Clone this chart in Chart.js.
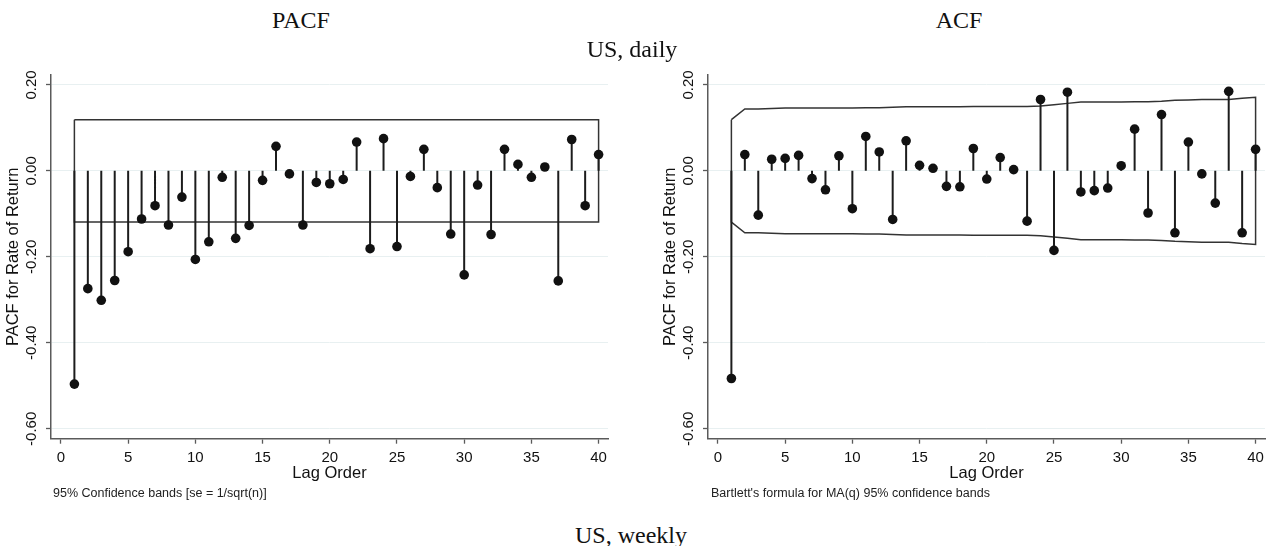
<!DOCTYPE html>
<html>
<head>
<meta charset="utf-8">
<title>PACF / ACF - US, daily</title>
<script src="https://cdn.jsdelivr.net/npm/chart.js@4.4.1/dist/chart.umd.min.js"></script>
<style>
    html, body { margin: 0; padding: 0; background: #fff; overflow: hidden; }
    #wrap { position: relative; width: 1271px; height: 546px; background: #fff; }
    canvas { position: absolute; top: 60px; }
    .title { position: absolute; width: 240px; text-align: center; font-family: "Liberation Serif", "Times New Roman", serif; font-size: 24px; line-height: 24px; color: #111; white-space: nowrap; }
    .note { position: absolute; top: 486px; font-family: "Liberation Sans", Arial, sans-serif; font-size: 12.5px; line-height: 14px; color: #222; white-space: nowrap; }
</style>
</head>
<body>
<div id="wrap">
    <canvas id="pacfChart" width="630" height="450" style="left:0"></canvas>
    <canvas id="acfChart" width="614" height="450" style="left:657px"></canvas>

    <div class="title" style="left:181px; top:8px">PACF</div>
    <div class="title" style="left:839px; top:8px">ACF</div>
    <div class="title" style="left:512px; top:37px">US, daily</div>
    <div class="title" style="left:511px; top:523px">US, weekly</div>

    <div class="note" style="left:53px">95% Confidence bands [se = 1/sqrt(n)]</div>
    <div class="note" style="left:711px">Bartlett's formula for MA(q) 95% confidence bands</div>
</div>

<script>
// lag order 1..40
const lags = [1, 2, 3, 4, 5, 6, 7, 8, 9, 10, 11, 12, 13, 14, 15, 16, 17, 18, 19, 20,
    21, 22, 23, 24, 25, 26, 27, 28, 29, 30, 31, 32, 33, 34, 35, 36, 37, 38, 39, 40];

// values
const pacfValues = [-0.496, -0.274, -0.301, -0.255, -0.188, -0.112, -0.081, -0.126, -0.061, -0.206,
    -0.165, -0.015, -0.157, -0.127, -0.022, 0.057, -0.007, -0.126, -0.027, -0.030,
    -0.020, 0.067, -0.181, 0.075, -0.176, -0.013, 0.050, -0.039, -0.147, -0.242,
    -0.033, -0.148, 0.050, 0.015, -0.015, 0.009, -0.256, 0.073, -0.081, 0.038];

const acfValues = [-0.483, 0.038, -0.103, 0.027, 0.029, 0.036, -0.018, -0.044, 0.035, -0.088,
    0.080, 0.044, -0.113, 0.070, 0.013, 0.006, -0.036, -0.037, 0.052, -0.019,
    0.031, 0.003, -0.117, 0.166, -0.185, 0.183, -0.049, -0.046, -0.040, 0.012,
    0.097, -0.098, 0.131, -0.144, 0.067, -0.007, -0.075, 0.185, -0.144, 0.050];

// 95% bands (upper edge, the lower edge is the mirror)
const pacfBand = [0.119, 0.119];   // at lag 1 and lag 40
const acfBand = [0.119, 0.144, 0.144, 0.145, 0.146, 0.146, 0.146, 0.146, 0.146, 0.146,
    0.147, 0.147, 0.148, 0.149, 0.149, 0.149, 0.149, 0.149, 0.150, 0.150,
    0.150, 0.150, 0.150, 0.151, 0.154, 0.157, 0.160, 0.160, 0.160, 0.160,
    0.161, 0.161, 0.162, 0.164, 0.165, 0.166, 0.166, 0.166, 0.169, 0.171];

const xTicks = [0, 5, 10, 15, 20, 25, 30, 35, 40];
const yTicks = [-0.6, -0.4, -0.2, 0, 0.2];

const yTitle = 'PACF for Rate of Return';
const xTitle = 'Lag Order';

Chart.defaults.font.family = '"Liberation Sans", Arial, sans-serif';
Chart.defaults.color = '#111';

const axisColor = '#5a5a5a';
const gridColor = '#e8f0f1';

function bandPolygon(bandLags, upper) {
    const pts = bandLags.map((l, i) => ({ x: l, y: upper[i] }));
    for (let i = bandLags.length - 1; i >= 0; i--) {
        pts.push({ x: bandLags[i], y: -upper[i] });
    }
    pts.push({ x: bandLags[0], y: upper[0] });
    return pts;
}

function stems(values) {
    const pts = [];
    lags.forEach((l, i) => {
        pts.push({ x: l, y: 0 }, { x: l, y: values[i] }, { x: l, y: null });
    });
    return pts;
}

function drawCorrelogram(canvasId, values, band, rightPad) {
    const ctx = document.getElementById(canvasId);
    return new Chart(ctx, {
        type: 'scatter',
        data: {
            datasets: [
                {
                    label: 'value',
                    data: lags.map((l, i) => ({ x: l, y: values[i] })),
                    pointRadius: 4.8,
                    pointBackgroundColor: '#111',
                    pointBorderWidth: 0,
                    showLine: false,
                },
                {
                    label: 'stem',
                    data: stems(values),
                    showLine: true,
                    spanGaps: false,
                    borderColor: '#1c1c1c',
                    borderWidth: 2,
                    pointRadius: 0,
                },
                {
                    label: 'band',
                    data: band,
                    showLine: true,
                    borderColor: '#333',
                    borderWidth: 1.5,
                    pointRadius: 0,
                    tension: 0,
                    fill: false,
                },
            ],
        },
        options: {
            responsive: false,
            animation: false,
            events: [],
            layout: { padding: { top: 15, right: rightPad, bottom: 0, left: 0 } },
            plugins: {
                legend: { display: false },
                tooltip: { enabled: false },
            },
            scales: {
                x: {
                    type: 'linear',
                    min: -0.74,
                    max: 40.7,
                    offset: false,
                    afterBuildTicks: (scale) => { scale.ticks = xTicks.map(v => ({ value: v })); },
                    afterFit: (scale) => { scale.height = 71.3; },
                    grid: { drawOnChartArea: false, tickLength: 5, tickColor: axisColor, tickWidth: 1.3 },
                    border: { color: axisColor, width: 1.5 },
                    ticks: {
                        padding: 5,
                        maxRotation: 0,
                        autoSkip: false,
                        font: { size: 15 },
                        callback: (v) => String(v),
                    },
                    title: {
                        display: true,
                        text: xTitle,
                        font: { size: 16.5, lineHeight: 1.2 },
                        padding: { top: 0, bottom: 27 },
                    },
                },
                y: {
                    type: 'linear',
                    min: -0.623,
                    max: 0.223,
                    afterBuildTicks: (scale) => { scale.ticks = yTicks.map(v => ({ value: v })); },
                    afterFit: (scale) => { scale.width = 51; },
                    grid: { color: gridColor, lineWidth: 1, tickLength: 5, tickColor: axisColor, tickWidth: 1.3 },
                    border: { color: axisColor, width: 1.5 },
                    ticks: {
                        minRotation: 90,
                        maxRotation: 90,
                        crossAlign: 'center',
                        padding: -3,
                        autoSkip: false,
                        font: { size: 15 },
                        callback: (v) => v.toFixed(2),
                    },
                    title: {
                        display: true,
                        text: yTitle,
                        font: { size: 16.5, lineHeight: 1.2 },
                        padding: { top: 4, bottom: 0 },
                    },
                },
            },
        },
    });
}

drawCorrelogram('pacfChart', pacfValues, bandPolygon([1, 40], pacfBand), 22);
drawCorrelogram('acfChart', acfValues, bandPolygon(lags, acfBand), 6);
</script>
</body>
</html>
